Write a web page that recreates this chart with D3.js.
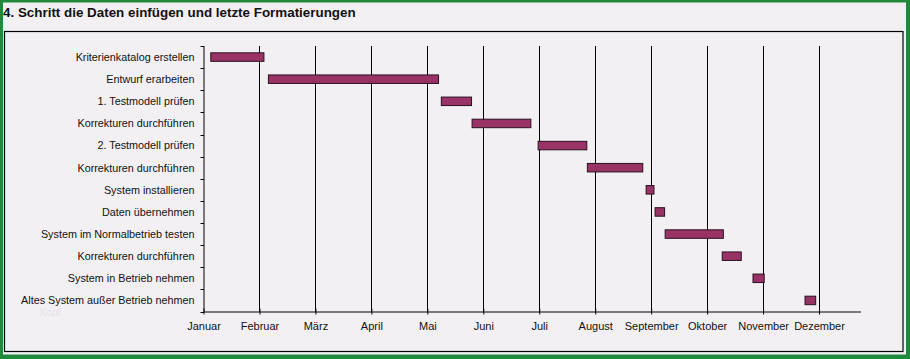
<!DOCTYPE html>
<html><head><meta charset="utf-8">
<script src="https://cdn.jsdelivr.net/npm/d3@7"></script>
<style>
html,body{margin:0;padding:0;background:#f3f0f4;}
svg{display:block;font-family:"Liberation Sans",Arial,sans-serif;}
</style></head>
<body>
<svg id="c" width="910" height="359"></svg>
<script>
const tasks = ["Kriterienkatalog erstellen","Entwurf erarbeiten","1. Testmodell prüfen","Korrekturen durchführen","2. Testmodell prüfen","Korrekturen durchführen","System installieren","Daten übernehmen","System im Normalbetrieb testen","Korrekturen durchführen","System in Betrieb nehmen","Altes System außer Betrieb nehmen"];
// start and end in months since 1 January
const starts = [0.13, 1.16, 4.25, 4.80, 5.98, 6.86, 7.91, 8.07, 8.25, 9.27, 9.82, 10.75];
const ends   = [1.08, 4.20, 4.79, 5.85, 6.85, 7.85, 8.05, 8.24, 9.29, 9.61, 10.02, 10.94];
const months = ["Januar","Februar","März","April","Mai","Juni","Juli","August","September","Oktober","November","Dezember"];
const title = "4. Schritt die Daten einfügen und letzte Formatierungen";

(function(){
const svg = d3.select("#c");
// green outer border
svg.append("rect").attr("x",1.5).attr("y",1).attr("width",906).attr("height",355).attr("fill","#f3f0f4").attr("stroke","#1f8a3c").attr("stroke-width",3);
svg.append("rect").attr("x",0).attr("y",355).attr("width",910).attr("height",4).attr("fill","#1f8a3c");
svg.append("rect").attr("x",0).attr("y",0).attr("width",3).attr("height",359).attr("fill","#1f8a3c");
svg.append("rect").attr("x",906).attr("y",0).attr("width",4).attr("height",359).attr("fill","#1f8a3c");

svg.append("text").attr("x",3).attr("y",17).attr("font-size",13.4).attr("font-weight","bold").attr("fill","#111").text(title);

// inner frame
svg.append("rect").attr("x",4.5).attr("y",31.5).attr("width",898.5).attr("height",320).attr("fill","#f3f0f4").attr("stroke","#000").attr("stroke-width",1.2);

const x0 = 203.5, xEnd = 861, yTop = 46, yBottom = 311.5;
const x = d3.scaleLinear().domain([0, 11.75]).range([x0, xEnd]);
const y = d3.scaleBand().domain(d3.range(tasks.length)).range([yTop, yBottom]);

// vertical gridlines at months
svg.append("g").selectAll("line").data(d3.range(1,12)).join("line")
  .attr("x1",d=>Math.round(x(d))+0.5).attr("x2",d=>Math.round(x(d))+0.5)
  .attr("y1",yTop).attr("y2",yBottom).attr("stroke","#000").attr("stroke-width",1);

// x axis
const xAxis = d3.axisBottom(x).tickValues(d3.range(0,12)).tickFormat(d=>months[d]).tickSize(4).tickSizeOuter(0);
const gx = svg.append("g").attr("transform",`translate(0,${yBottom})`).call(xAxis);
gx.select(".domain").attr("stroke","#000").attr("d",`M${x0},0.5H${xEnd}`);
gx.selectAll(".tick line").attr("stroke","#000").attr("y1",-3).attr("y2",3);
gx.selectAll(".tick text").attr("font-size",11).attr("fill","#111").attr("dy","0.71em").attr("y",11)
  .attr("font-family","'Liberation Sans',Arial,sans-serif");

// y axis
const yAxis = d3.axisLeft(y).tickFormat(i=>tasks[i]).tickSize(0);
const gy = svg.append("g").attr("transform",`translate(${x0},0)`).call(yAxis);
gy.select(".domain").attr("stroke","#000").attr("d",`M0.5,${yTop}V${yBottom}`);
gy.selectAll(".tick text").attr("font-size",10.8).attr("fill","#111").attr("x",-9).attr("dy","0.36em")
  .attr("font-family","'Liberation Sans',Arial,sans-serif");
// category separator ticks
svg.append("g").selectAll("line").data(d3.range(tasks.length+1)).join("line")
  .attr("x1",x0-3).attr("x2",x0+0.5)
  .attr("y1",i=>Math.round(yTop + i*y.step())+0.5).attr("y2",i=>Math.round(yTop + i*y.step())+0.5)
  .attr("stroke","#000");

// bars
const bh = 8.5;
svg.append("g").selectAll("rect").data(tasks.map((t,i)=>i)).join("rect")
  .attr("x",i=>x(starts[i])).attr("width",i=>x(ends[i])-x(starts[i]))
  .attr("y",i=>y(i)+y.bandwidth()/2-bh/2).attr("height",bh)
  .attr("fill","#993366").attr("stroke","#2a1020").attr("stroke-width",1);

// faint ghost text
svg.append("text").attr("x",40).attr("y",316).attr("font-size",10).attr("fill","#e6e2ea").text("Kopf");
})();
</script>
</body></html>
